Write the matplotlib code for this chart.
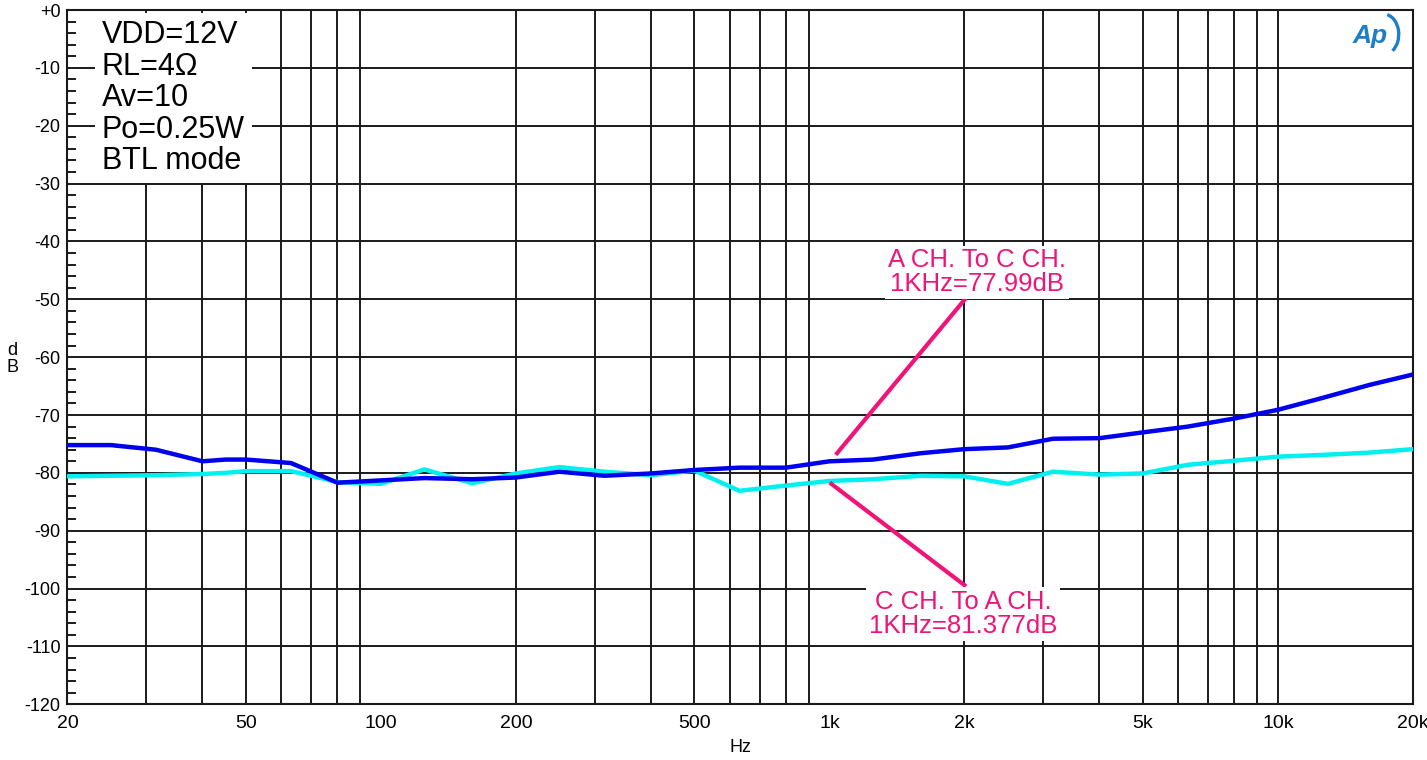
import numpy as np
import matplotlib.pyplot as plt
from matplotlib.patches import Arc

# 1/3-octave frequencies (Hz)
freq = [20, 25, 31.5, 40, 45, 50, 63, 70, 80, 100, 125, 160, 200, 250, 315, 400,
        500, 630, 800, 1000, 1250, 1600, 2000, 2500, 3150, 4000, 5000, 6300,
        8000, 10000, 12500, 16000, 20000]

# A CH. -> C CH. crosstalk (dB)
a_to_c = [-75.2, -75.2, -76.0, -78.0, -77.7, -77.7, -78.3, -79.8, -81.7, -81.3,
          -80.9, -81.1, -80.8, -79.8, -80.5, -80.1, -79.5, -79.1, -79.1, -78.0,
          -77.7, -76.6, -75.9, -75.6, -74.1, -74.0, -73.0, -72.0, -70.6, -69.1,
          -67.1, -64.8, -63.0]

# C CH. -> A CH. crosstalk (dB)
c_to_a = [-80.6, -80.5, -80.4, -80.2, -80.0, -79.7, -79.7, -80.5, -81.6, -81.9,
          -79.4, -81.8, -80.1, -79.0, -79.8, -80.4, -79.6, -83.1, -82.2, -81.4,
          -81.1, -80.5, -80.6, -81.9, -79.8, -80.3, -80.1, -78.6, -77.9, -77.2,
          -76.9, -76.5, -75.9]

xticks = [20, 50, 100, 200, 500, 1000, 2000, 5000, 10000, 20000]
xtick_labels = ["20", "50", "100", "200", "500", "1k", "2k", "5k", "10k", "20k"]
yticks = list(range(0, -121, -10))
ytick_labels = ["+0"] + [str(v) for v in yticks[1:]]

info = "VDD=12V\nRL=4\u03a9\nAv=10\nPo=0.25W\nBTL mode"
note_a = "A CH. To C CH.\n1KHz=77.99dB"
note_c = "C CH. To A CH.\n1KHz=81.377dB"

plt.rcParams['font.family'] = ['Liberation Sans', 'DejaVu Sans']

fig = plt.figure(figsize=(14.27, 7.6), dpi=100)
ax = fig.add_axes([0.0473, 0.0733, 0.9428, 0.9135])

ax.set_xscale('log')
ax.set_xlim(20, 20000)
ax.set_ylim(-120, 0)

# grid: every minor decade step on x, every 10 dB on y
vgrid = [f * d for d in [10, 100, 1000] for f in range(2, 10)] + [10000, 20000]
vgrid = [v for v in vgrid if 20 < v < 20000]
for v in vgrid:
    ax.axvline(v, color='#1a1a1a', lw=1.4, zorder=1)
for h in yticks[1:-1]:
    ax.axhline(h, color='#1a1a1a', lw=1.4, zorder=1)

ax.plot(freq, c_to_a, color='#00F0F0', lw=3.2, zorder=3)
ax.plot(freq, a_to_c, color='#0000F0', lw=3.2, zorder=4)

# annotation pointers
ax.plot([1040, 2000], [-76.6, -50.1], color='#F01478', lw=3, zorder=5)
ax.plot([1010, 2000], [-81.9, -99.4], color='#F01478', lw=3, zorder=5)
ax.text(2130, -45.3, note_a, color='#F01478', fontsize=18.5, ha='center', va='center',
        linespacing=0.97, zorder=6,
        bbox=dict(facecolor='white', edgecolor='none', pad=2))
ax.text(1990, -104.4, note_c, color='#F01478', fontsize=18.5, ha='center', va='center',
        linespacing=0.97, zorder=6,
        bbox=dict(facecolor='white', edgecolor='none', pad=2))

# condition box
ax.text(0.0255, 0.985, info, transform=ax.transAxes, fontsize=22, ha='left', va='top',
        linespacing=1.06, zorder=6,
        bbox=dict(facecolor='white', edgecolor='none', pad=5))

# AP logo
ax.text(0.9815, 0.963, "Ap", transform=ax.transAxes, fontsize=19, color='#1E7EC8',
        style='italic', fontweight='bold', ha='right', va='center', zorder=6)
ax.add_patch(Arc((0.9785, 0.965), 0.022, 0.058, transform=ax.transAxes, theta1=-75,
                 theta2=85, color='#1E7EC8', lw=2.4, zorder=6))

ax.set_xticks(xticks)
ax.set_xticklabels(xtick_labels)
ax.xaxis.set_minor_locator(plt.NullLocator())
ax.set_yticks(yticks)
ax.set_yticklabels(ytick_labels)
ax.set_yticks(np.arange(-118, 0, 2), minor=True)
ax.tick_params(axis='x', which='both', length=0, labelsize=14, pad=8)
ax.tick_params(axis='y', which='major', length=0, labelsize=13, pad=5)
ax.tick_params(axis='y', which='minor', direction='in', length=6.5, width=1.4, color='#1a1a1a')

for s in ax.spines.values():
    s.set_linewidth(1.5)
    s.set_color('#1a1a1a')

ax.set_xlabel("Hz", fontsize=13, labelpad=5)
fig.text(0.0085, 0.527, "d\nB", fontsize=13, ha='center', va='center', linespacing=1.0)

fig.savefig("out.png", dpi=100, facecolor='white')
